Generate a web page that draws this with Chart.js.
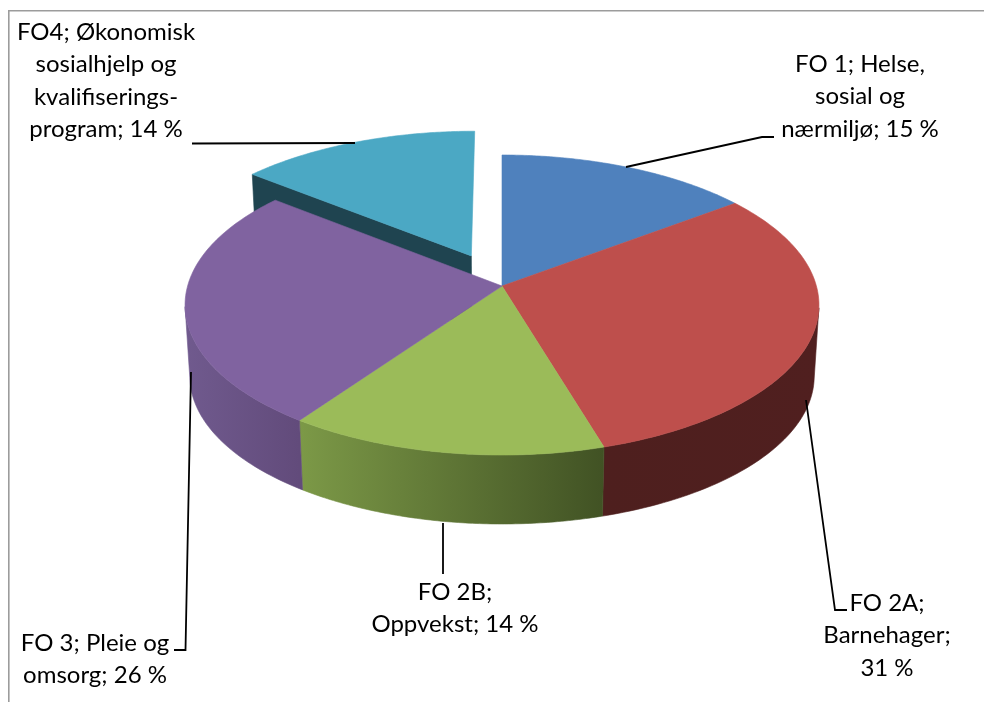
<!DOCTYPE html>
<html>
<head>
<meta charset="utf-8">
<style>html,body{margin:0;padding:0;background:#fff}canvas{display:block}</style>
<script src="https://cdn.jsdelivr.net/npm/chart.js@4"></script>
</head>
<body>
<canvas id="c" width="984" height="702"></canvas>
<script>
const categories = ['FO 1; Helse, sosial og nærmiljø', 'FO 2A; Barnehager', 'FO 2B; Oppvekst', 'FO 3; Pleie og omsorg', 'FO4; Økonomisk sosialhjelp og kvalifiseringsprogram'];
const shares = [14.7, 30.7, 14.4, 26.0, 14.2];
const topColors = ['#4F81BD', '#BE4F4C', '#9BBB59', '#8063A0', '#4BA8C4'];
const wallLeft = ['#2F4D71', '#4E1F1E', '#7C9947', '#705A8E', '#1F4450'];
const wallRight = ['#2F4D71', '#501F1F', '#415224', '#624B7B', '#1F4450'];
const sliceOffsets = [0, 0, 0, 0, 60];
const labelLines = [
  ['FO 1; Helse,', 'sosial og', 'nærmiljø; 15 %'],
  ['FO 2A;', 'Barnehager;', '31 %'],
  ['FO 2B;', 'Oppvekst; 14 %'],
  ['FO 3; Pleie og', 'omsorg; 26 %'],
  ['FO4; Økonomisk', 'sosialhjelp og', 'kvalifiserings-', 'program; 14 %']
];

// placement of the tilted pie, the labels and their leader lines
const VIEW = {cx: 502, cy: 286, rx: 314.4, ry: 147.6, k: 0.1267, depth: 71.5, shrink: 0.985, explode: 0.232};
const LABEL_POS = [[860, 72], [887, 611], [455, 600], [95, 651], [106, 40]];
const LINE_H = 32.4;
const LEADERS = [
  [[626, 167], [762, 137], [774, 137]],
  [[806, 400], [835, 610], [847, 610]],
  [[443, 523], [443, 574]],
  [[191, 372], [185.5, 650], [174, 650]],
  [[192, 143.5], [355, 143]]
];

function project(u, v, low) {
  const w = 1 - VIEW.k * v;
  const s = low ? VIEW.shrink : 1;
  return [VIEW.cx + s * VIEW.rx * u / w, VIEW.cy + (low ? VIEW.depth : 0) + s * VIEW.ry * v / w];
}
function geom(el) {
  const mid = (el.startAngle + el.endAngle) / 2;
  const e = el.options.offset ? VIEW.explode : 0;
  return {a0: el.startAngle, a1: el.endAngle, ox: Math.cos(mid) * e, oy: Math.sin(mid) * e};
}
function rimAngles(g) {
  const out = [], n = 90;
  for (let i = 0; i <= n; i++) out.push(g.a0 + (g.a1 - g.a0) * i / n);
  return out;
}
function rimPoint(g, a, low) {
  return project(g.ox + Math.cos(a), g.oy + Math.sin(a), low);
}
function fillPoly(ctx, pts, fill) {
  ctx.beginPath();
  pts.forEach((p, i) => i ? ctx.lineTo(p[0], p[1]) : ctx.moveTo(p[0], p[1]));
  ctx.closePath();
  ctx.fillStyle = fill;
  ctx.strokeStyle = fill;
  ctx.lineWidth = 0.6;
  ctx.fill();
  ctx.stroke();
}
function drawWall(ctx, el, i) {
  const g = geom(el);
  const angles = rimAngles(g).filter(a => g.oy + Math.sin(a) >= VIEW.k);
  if (angles.length < 2) return;
  const xs = angles.map(a => rimPoint(g, a, false)[0]);
  const grad = ctx.createLinearGradient(Math.min(...xs), 0, Math.max(...xs), 0);
  grad.addColorStop(0, wallLeft[i]);
  grad.addColorStop(1, wallRight[i]);
  const upper = angles.map(a => rimPoint(g, a, false));
  const lower = angles.map(a => rimPoint(g, a, true)).reverse();
  fillPoly(ctx, upper.concat(lower), grad);
}
function drawCut(ctx, el, i) {
  const g = geom(el);
  fillPoly(ctx, [rimPoint(g, g.a0, false), project(g.ox, g.oy, false), project(g.ox, g.oy, true), rimPoint(g, g.a0, true)], wallLeft[i]);
}
function drawTop(ctx, el, i) {
  const g = geom(el);
  fillPoly(ctx, [project(g.ox, g.oy, false)].concat(rimAngles(g).map(a => rimPoint(g, a, false))), topColors[i]);
}

const tiltedPie = {
  id: 'tiltedPie',
  beforeDraw(chart) {
    const ctx = chart.ctx;
    ctx.save();
    ctx.fillStyle = '#fff';
    ctx.fillRect(0, 0, chart.width, chart.height);
    ctx.strokeStyle = '#9C9C9C';
    ctx.lineWidth = 1.6;
    ctx.beginPath();
    ctx.moveTo(8.8, chart.height);
    ctx.lineTo(8.8, 10.8);
    ctx.lineTo(chart.width, 10.8);
    ctx.stroke();
    ctx.restore();
  },
  beforeDatasetDraw(chart) {
    const ctx = chart.ctx;
    const arcs = chart.getDatasetMeta(0).data;
    const last = arcs.length - 1;
    ctx.save();
    drawWall(ctx, arcs[last], last);
    drawCut(ctx, arcs[last], last);
    drawTop(ctx, arcs[last], last);
    for (let i = 0; i < last; i++) drawWall(ctx, arcs[i], i);
    for (let i = 0; i < last; i++) drawTop(ctx, arcs[i], i);
    ctx.restore();
    return false;
  },
  afterDraw(chart) {
    const ctx = chart.ctx;
    ctx.save();
    ctx.strokeStyle = '#000';
    ctx.lineWidth = 1.8;
    LEADERS.forEach(line => {
      ctx.beginPath();
      line.forEach((p, i) => i ? ctx.lineTo(p[0], p[1]) : ctx.moveTo(p[0], p[1]));
      ctx.stroke();
    });
    ctx.fillStyle = '#000';
    ctx.font = '24px Lato';
    ctx.textAlign = 'center';
    ctx.textBaseline = 'alphabetic';
    labelLines.forEach((lines, i) => {
      lines.forEach((t, j) => ctx.fillText(t, LABEL_POS[i][0], LABEL_POS[i][1] + j * LINE_H));
    });
    ctx.restore();
  }
};

new Chart(document.getElementById('c'), {
  type: 'pie',
  data: {
    labels: categories,
    datasets: [{data: shares, backgroundColor: topColors, offset: sliceOffsets, borderWidth: 0}]
  },
  options: {
    responsive: false,
    animation: false,
    rotation: 0,
    plugins: {legend: {display: false}, tooltip: {enabled: false}, title: {display: false}}
  },
  plugins: [tiltedPie]
});
</script>
</body>
</html>
